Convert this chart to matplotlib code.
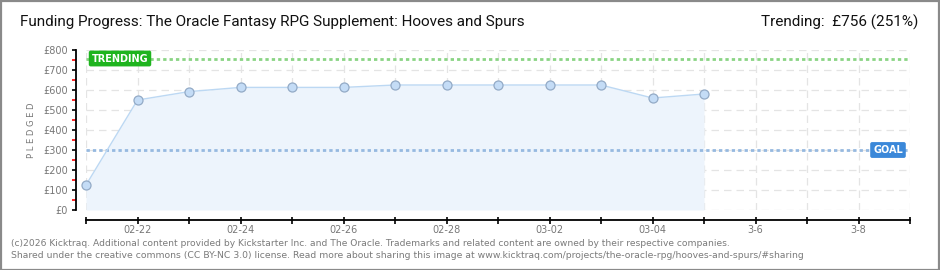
import matplotlib

matplotlib.use("Agg")
import matplotlib.pyplot as plt
from matplotlib.patches import Rectangle
from matplotlib.ticker import FixedLocator, MultipleLocator

# daily pledge totals, 02-21 .. 03-05 (GBP)
DAYS = list(range(13))
PLEDGED = [125, 550, 592, 613, 613, 613, 625, 625, 625, 625, 625, 560, 580]
GOAL = 300
TRENDING = 756
TICK_DAYS = list(range(17))  # 02-21 .. 03-09
TICK_LABELS = ["", "02-22", "", "02-24", "", "02-26", "", "02-28", "",
               "03-02", "", "03-04", "", "3-6", "", "3-8", ""]
Y_TICKS = list(range(0, 801, 100))

TITLE = "Funding Progress: The Oracle Fantasy RPG Supplement: Hooves and Spurs"
TREND_TEXT = "Trending:  £756 (251%)"
FOOTER = [
    "(c)2026 Kicktraq. Additional content provided by Kickstarter Inc. and The Oracle. "
    "Trademarks and related content are owned by their respective companies.",
    "Shared under the creative commons (CC BY-NC 3.0) license. Read more about sharing this "
    "image at www.kicktraq.com/projects/the-oracle-rpg/hooves-and-spurs/#sharing",
]
HEAD_FONT = ["Roboto", "DejaVu Sans"]

W, H = 940, 270
PX = 72 / 100  # points per pixel at dpi 100
fig = plt.figure(figsize=(W / 100, H / 100), dpi=100)
fig.patch.set_facecolor("white")
# axes box in pixels: x 86..910, y 50..210 (top-down)
ax = fig.add_axes([86 / W, (H - 210) / H, 824 / W, 160 / H])

ax.fill_between(DAYS, PLEDGED, 0, color="#edf4fc", lw=0, zorder=1)
ax.plot(DAYS, PLEDGED, color="#bcd8f3", lw=1.0, zorder=3)
ax.plot(DAYS, PLEDGED, "o", ms=6.5, mfc="#c4dcf6", mec="#93aac6", mew=0.9, zorder=4,
        clip_on=False)

ax.axhline(TRENDING, color="#8ad484", lw=2.0, ls=(0, (1.2, 1.1)), zorder=2)
ax.axhline(GOAL, color="#96b9e0", lw=2.0, ls=(0, (1.2, 1.1)), zorder=2)

ax.set_xlim(0, 16)
ax.set_ylim(0, 800)
ax.grid(True, color="#e4e4e4", ls=(0, (6, 4)), lw=0.9, zorder=0)
ax.set_axisbelow(True)

for side in ("top", "right"):
    ax.spines[side].set_visible(False)
ax.spines["left"].set_position(("outward", 10 * PX))
ax.spines["bottom"].set_position(("outward", 10 * PX))
for side in ("left", "bottom"):
    ax.spines[side].set_color("black")
    ax.spines[side].set_linewidth(1.3)

ax.xaxis.set_major_locator(FixedLocator(TICK_DAYS))
ax.set_xticklabels(TICK_LABELS)
ax.yaxis.set_major_locator(FixedLocator(Y_TICKS))
ax.yaxis.set_minor_locator(MultipleLocator(50))
ax.set_yticklabels([f"£{v}" for v in Y_TICKS])
ax.tick_params(axis="x", direction="inout", length=7 * PX, width=1.2, color="black",
               labelsize=7, labelcolor="#777777", pad=1)
ax.tick_params(axis="y", which="major", direction="out", length=4 * PX, width=1.2,
               color="black", labelsize=7, labelcolor="#777777", pad=3)
ax.tick_params(axis="y", which="minor", direction="out", length=4 * PX, width=1.2, color="red")
ax.grid(False, which="minor")

# labels riding on the reference lines
fig.text(120 / W, 1 - 58.5 / H, "TRENDING", color="white", fontsize=7, fontweight="bold",
         ha="center", va="center",
         bbox=dict(boxstyle="round,pad=0.3,rounding_size=0.2", fc="#1eb41e", ec="none"))
fig.text(888 / W, 1 - 150 / H, "GOAL", color="white", fontsize=7, fontweight="bold",
         ha="center", va="center",
         bbox=dict(boxstyle="round,pad=0.3,rounding_size=0.2", fc="#3b88d9", ec="none"))

fig.text(31 / W, 1 - 130 / H, "P L E D G E D", rotation=90, color="#777777", fontsize=6,
         ha="center", va="center")

fig.text(20 / W, 1 - 22 / H, TITLE, fontsize=11, family=HEAD_FONT, color="#111111",
         ha="left", va="center")
fig.text(918 / W, 1 - 22 / H, TREND_TEXT, fontsize=11, family=HEAD_FONT, color="#111111",
         ha="right", va="center")

fig.text(11 / W, 1 - 243 / H, FOOTER[0], fontsize=6.6, color="#7a7a7a", ha="left", va="center")
fig.text(11 / W, 1 - 255.5 / H, FOOTER[1], fontsize=6.7, color="#7a7a7a", ha="left",
         va="center")

fig.add_artist(Rectangle((0.5 / W, 0.5 / H), (W - 1.5) / W, (H - 1.5) / H,
                         transform=fig.transFigure, fill=False, ec="#8a8a8a", lw=1.6))

fig.savefig("out.png", dpi=100, facecolor="white")
